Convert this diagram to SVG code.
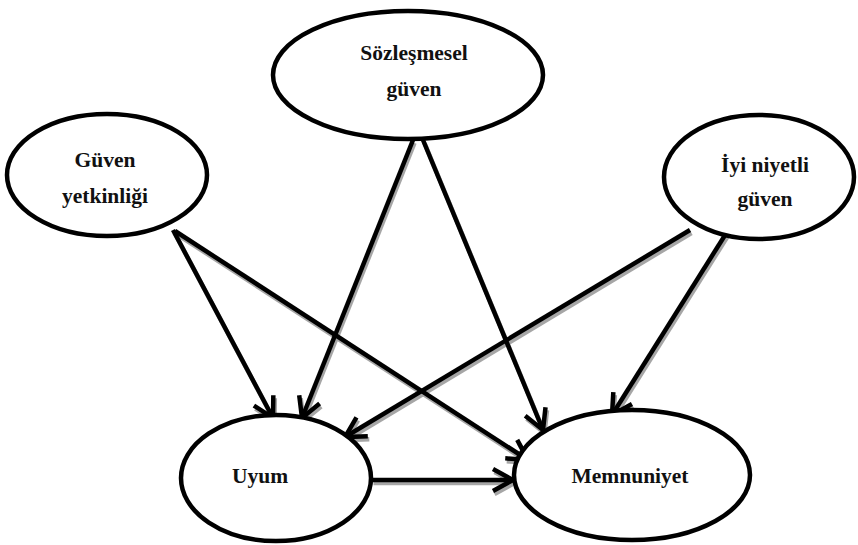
<svg xmlns="http://www.w3.org/2000/svg" width="858" height="545" viewBox="0 0 858 545">
  <style>
    .node ellipse { fill: #ffffff; stroke: #000000; stroke-width: 4.5; }
    .node text { font-family: "Liberation Serif", "Times New Roman", serif; font-weight: bold; font-size: 21.5px; fill: #111111; text-anchor: middle; }
    .edge { fill: none; stroke: #000000; stroke-width: 4.5; marker-end: url(#head); }
    .shadow .edge { stroke: #a6a6a6; marker-end: url(#head-shadow); }
  </style>
  <defs>
    <marker id="head" markerUnits="userSpaceOnUse" markerWidth="30" markerHeight="30" viewBox="-24 -15 30 30" refX="0" refY="0" orient="auto" overflow="visible">
      <path d="M-20,-11 L0,0 L-20,11" fill="none" stroke="#000000" stroke-width="4.5" stroke-linejoin="miter"/>
    </marker>
    <marker id="head-shadow" markerUnits="userSpaceOnUse" markerWidth="30" markerHeight="30" viewBox="-24 -15 30 30" refX="0" refY="0" orient="auto" overflow="visible">
      <path d="M-20,-11 L0,0 L-20,11" fill="none" stroke="#a6a6a6" stroke-width="4.5" stroke-linejoin="miter"/>
    </marker>
    <filter id="soft" x="-5%" y="-5%" width="110%" height="110%">
      <feGaussianBlur stdDeviation="0.6"/>
    </filter>
  </defs>

  <!-- connectors: grey offset copy first, then the black arrows -->
  <g id="connectors">
    <g class="shadow" transform="translate(1.5,3)" filter="url(#soft)">
      <path class="edge" d="M173,230 L273,418"/>
      <path class="edge" d="M175,231 L528,460"/>
      <path class="edge" d="M413,140 L302,418"/>
      <path class="edge" d="M423,140 L543,430"/>
      <path class="edge" d="M690,230 L345,437"/>
      <path class="edge" d="M727,232 L612,415"/>
      <path class="edge" d="M372,480 L513,480"/>
    </g>
    <path class="edge" d="M173,230 L273,418"/>
    <path class="edge" d="M175,231 L528,460"/>
    <path class="edge" d="M413,140 L302,418"/>
    <path class="edge" d="M423,140 L543,430"/>
    <path class="edge" d="M690,230 L345,437"/>
    <path class="edge" d="M727,232 L612,415"/>
    <path class="edge" d="M372,480 L513,480"/>
  </g>

  <g id="sozlesmesel-guven" class="node">
    <ellipse cx="408" cy="75" rx="135" ry="64"/>
    <text x="414" y="60">Sözleşmesel</text>
    <text x="414" y="96">güven</text>
  </g>

  <g id="guven-yetkinligi" class="node">
    <ellipse cx="107" cy="175" rx="100" ry="61"/>
    <text x="105" y="167">Güven</text>
    <text x="105" y="203">yetkinliği</text>
  </g>

  <g id="iyi-niyetli-guven" class="node">
    <ellipse cx="759" cy="177" rx="95" ry="62"/>
    <text x="765" y="172">İyi niyetli</text>
    <text x="765" y="206">güven</text>
  </g>

  <g id="uyum" class="node">
    <ellipse cx="276" cy="478" rx="95" ry="63"/>
    <text x="260" y="483">Uyum</text>
  </g>

  <g id="memnuniyet" class="node">
    <ellipse cx="632" cy="475" rx="118" ry="65"/>
    <text x="630" y="483">Memnuniyet</text>
  </g>
</svg>
